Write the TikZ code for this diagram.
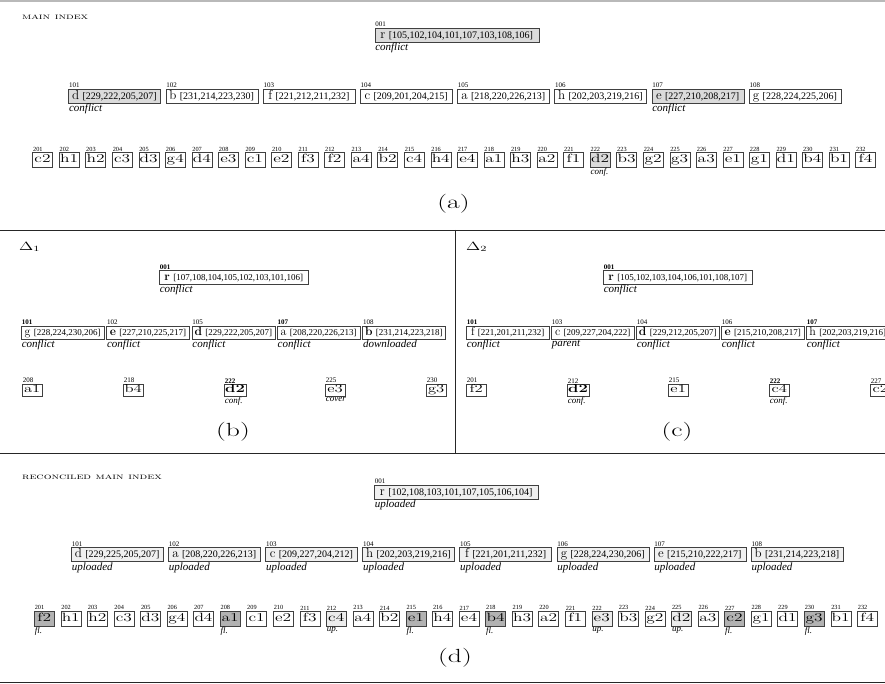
\documentclass[tikz,border=0pt]{standalone}
\usepackage{fontspec}
\usepackage{graphicx}
\usetikzlibrary{shadows}
\newfontfamily\tms{Liberation Serif}
\newcommand{\wide}[1]{\scalebox{1.45}[1]{#1}}
\newcommand{\cle}[2][13]{{\fontsize{#1}{#1}\selectfont #2}}
\newcommand{\fils}[2][10]{{\tms\fontsize{#1}{#1}\selectfont[#2]}}

\begin{document}
\begin{tikzpicture}[x=1pt, y=-1pt,
    boite/.style={draw=black!75, line width=0.4pt, fill=white, inner sep=1pt, anchor=west,
                  drop shadow={shadow xshift=0.8pt, shadow yshift=-0.8pt, fill=black!80, opacity=1}},
    racine/.style={boite, minimum width=164pt, minimum height=14pt, text height=9pt, text depth=2.5pt},
    noeud/.style={boite, minimum width=92pt, minimum height=14pt, text height=9pt, text depth=2.5pt},
    feuille/.style={boite, minimum width=20pt, minimum height=15pt, text height=8pt, text depth=2.4pt,
                    font=\fontsize{12}{12}\selectfont},
    petiteracine/.style={racine, minimum width=149pt, minimum height=13pt},
    petitnoeud/.style={noeud, minimum width=83pt, minimum height=13pt},
    petitefeuille/.style={feuille, minimum height=12pt, text height=7.5pt, text depth=2.2pt,
                          font=\fontsize{11.5}{11.5}\selectfont},
    indice/.style={anchor=south west, inner sep=0.6pt, font=\tms\fontsize{7}{7}\selectfont},
    petitindice/.style={indice, font=\tms\fontsize{6.3}{6.3}\selectfont},
    remarque/.style={anchor=north west, inner sep=0.6pt, font=\tms\itshape\fontsize{11}{11}\selectfont},
    petiteremarque/.style={remarque, font=\tms\itshape\fontsize{9}{9}\selectfont},
    titre/.style={anchor=west, inner sep=0pt, font=\fontsize{8.5}{8.5}\selectfont},
    legende/.style={inner sep=0pt, font=\fontsize{19}{19}\selectfont},
    trait/.style={line width=0.9pt, draw=black!85}]
    \useasboundingbox (0,0) rectangle (885,684);
    \clip (0,0) rectangle (885,684);
    % separateurs
    \draw[line width=1.6pt, draw=gray!55] (0,0.8) -- (885,0.8);
    \draw[trait] (0,230) -- (885,230);
    \draw[trait] (0,453.5) -- (885,453.5);
    \draw[trait] (0,682) -- (885,682);
    \draw[trait] (455,230) -- (455,453.5);

    % (a) index principal
    \node[titre] (titreA) at (22,17) {\wide{\textsc{main index}}};
    \node[racine, fill=gray!28] (ar) at (374.5,35) {\cle{r} \fils{105,102,104,101,107,103,108,106}};
    \node[indice] (iar) at (ar.north west) {001};
    \node[remarque] (nar) at (ar.south west) {conflict};
    \foreach \k/\v/\l/\f [count=\c from 0] in {101/d/{229,222,205,207}/gray!28, 102/b/{231,214,223,230}/white,
        103/f/{221,212,211,232}/white, 104/c/{209,201,204,215}/white, 105/a/{218,220,226,213}/white,
        106/h/{202,203,219,216}/white, 107/e/{227,210,208,217}/gray!28, 108/g/{228,224,225,206}/white}{
      \node[noeud, fill=\f] (a\k) at (68.3+97.2*\c, 96) {\cle{\v} \fils{\l}};
      \node[indice] (ia\k) at (a\k.north west) {\k};
    }
    \node[remarque] (na101) at (a101.south west) {conflict};
    \node[remarque] (na107) at (a107.south west) {conflict};
    \foreach \v/\f [count=\c from 0] in {c2/white, h1/white, h2/white, c3/white, d3/white, g4/white,
        d4/white, e3/white, c1/white, e2/white, f3/white, f2/white, a4/white, b2/white, c4/white,
        h4/white, e4/white, a1/white, h3/white, a2/white, f1/white, d2/gray!28, b3/white, g2/white,
        g3/white, a3/white, e1/white, g1/white, d1/white, b4/white, b1/white, f4/white}{
      \pgfmathtruncatemacro\k{201+\c}
      \node[feuille, fill=\f] (a\k) at (32.3+26.55*\c, 160) {\wide{\v}};
      \node[petitindice] (ia\k) at (a\k.north west) {\k};
    }
    \node[petiteremarque] (na222) at (a222.south west) {conf.};
    \node[legende] (legA) at (453.5,204) {\wide{(a)}};

    % (b) delta 1
    \node[titre, font=\fontsize{12}{12}\selectfont] (delta1) at (19,247) {\wide{$\Delta_1$}};
    \node[petiteracine] (br) at (159,277) {\cle[12]{\textbf{r}} \fils[9]{107,108,104,105,102,103,101,106}};
    \node[indice] (ibr) at (br.north west) {\textbf{001}};
    \node[remarque] (nbr) at (br.south west) {conflict};
    \foreach \k/\t/\v/\l [count=\c from 0] in {101/\textbf{101}/g/{228,224,230,206},
        102/102/\textbf{e}/{227,210,225,217}, 105/105/\textbf{d}/{229,222,205,207},
        107/\textbf{107}/a/{208,220,226,213}, 108/108/\textbf{b}/{231,214,223,218}}{
      \node[petitnoeud] (b\k) at (21+85.3*\c, 332.5) {\cle[12]{\v} \fils[9]{\l}};
      \node[indice] (ib\k) at (b\k.north west) {\t};
    }
    \node[remarque] (nb101) at (b101.south west) {conflict};
    \node[remarque] (nb102) at (b102.south west) {conflict};
    \node[remarque] (nb105) at (b105.south west) {conflict};
    \node[remarque] (nb107) at (b107.south west) {conflict};
    \node[remarque] (nb108) at (b108.south west) {downloaded};
    \foreach \k/\t/\v [count=\c from 0] in {208/208/a1, 218/218/b4, 222/\textbf{222}/\textbf{d2},
        225/225/e3, 230/230/g3}{
      \node[petitefeuille] (b\k) at (22+101*\c, 390) {\wide{\v}};
      \node[indice] (ib\k) at (b\k.north west) {\t};
    }
    \node[petiteremarque] (nb222) at (b222.south west) {conf.};
    \node[petiteremarque] (nb225) at (b225.south west) {cover};
    \node[legende] (legB) at (233,432) {\wide{(b)}};

    % (c) delta 2
    \node[titre, font=\fontsize{12}{12}\selectfont] (delta2) at (466,247) {\wide{$\Delta_2$}};
    \node[petiteracine] (cr) at (603,277) {\cle[12]{\textbf{r}} \fils[9]{105,102,103,104,106,101,108,107}};
    \node[indice] (icr) at (cr.north west) {\textbf{001}};
    \node[remarque] (ncr) at (cr.south west) {conflict};
    \foreach \k/\t/\v/\l [count=\c from 0] in {101/\textbf{101}/f/{221,201,211,232},
        103/103/c/{209,227,204,222}, 104/104/\textbf{d}/{229,212,205,207},
        106/106/\textbf{e}/{215,210,208,217}, 107/\textbf{107}/h/{202,203,219,216}}{
      \node[petitnoeud] (c\k) at (466+85*\c, 332.5) {\cle[12]{\v} \fils[9]{\l}};
      \node[indice] (ic\k) at (c\k.north west) {\t};
    }
    \node[remarque] (nc101) at (c101.south west) {conflict};
    \node[remarque] (nc103) at (c103.south west) {parent};
    \node[remarque] (nc104) at (c104.south west) {conflict};
    \node[remarque] (nc106) at (c106.south west) {conflict};
    \node[remarque] (nc107) at (c107.south west) {conflict};
    \foreach \k/\t/\v [count=\c from 0] in {201/201/f2, 212/212/\textbf{d2}, 215/215/e1,
        222/\textbf{222}/c4, 227/227/c2}{
      \node[petitefeuille] (c\k) at (466+101*\c, 390) {\wide{\v}};
      \node[indice] (ic\k) at (c\k.north west) {\t};
    }
    \node[petiteremarque] (nc212) at (c212.south west) {conf.};
    \node[petiteremarque] (nc222) at (c222.south west) {conf.};
    \node[legende] (legC) at (677,432) {\wide{(c)}};

    % (d) index reconcilie
    \node[titre] (titreD) at (22,477) {\wide{\textsc{reconciled main index}}};
    \node[racine, fill=gray!12] (dr) at (374,492) {\cle{r} \fils{102,108,103,101,107,105,106,104}};
    \node[indice] (idr) at (dr.north west) {001};
    \node[remarque] (ndr) at (dr.south west) {uploaded};
    \foreach \k/\v/\l [count=\c from 0] in {101/d/{229,225,205,207}, 102/a/{208,220,226,213},
        103/c/{209,227,204,212}, 104/h/{202,203,219,216}, 105/f/{221,201,211,232},
        106/g/{228,224,230,206}, 107/e/{215,210,222,217}, 108/b/{231,214,223,218}}{
      \node[noeud, fill=gray!12] (d\k) at (71+97.1*\c, 554.5) {\cle{\v} \fils{\l}};
      \node[indice] (id\k) at (d\k.north west) {\k};
      \node[remarque] (nd\k) at (d\k.south west) {uploaded};
    }
    \foreach \v/\f [count=\c from 0] in {f2/gray!60, h1/white, h2/white, c3/white, d3/white, g4/white,
        d4/white, a1/gray!60, c1/white, e2/white, f3/white, c4/gray!15, a4/white, b2/white, e1/gray!60,
        h4/white, e4/white, b4/gray!60, h3/white, a2/white, f1/white, e3/gray!15, b3/white, g2/white,
        d2/gray!15, a3/white, c2/gray!60, g1/white, d1/white, g3/gray!60, b1/white, f4/white}{
      \pgfmathtruncatemacro\k{201+\c}
      \node[feuille, fill=\f] (d\k) at (34+26.55*\c, 618.5) {\wide{\v}};
      \node[petitindice] (id\k) at (d\k.north west) {\k};
    }
    \node[petiteremarque] (nd201) at (d201.south west) {fl.};
    \node[petiteremarque] (nd208) at (d208.south west) {fl.};
    \node[petiteremarque] (nd212) at (d212.south west) {up.};
    \node[petiteremarque] (nd215) at (d215.south west) {fl.};
    \node[petiteremarque] (nd218) at (d218.south west) {fl.};
    \node[petiteremarque] (nd222) at (d222.south west) {up.};
    \node[petiteremarque] (nd225) at (d225.south west) {up.};
    \node[petiteremarque] (nd227) at (d227.south west) {fl.};
    \node[petiteremarque] (nd230) at (d230.south west) {fl.};
    \node[legende] (legD) at (455,658) {\wide{(d)}};
\end{tikzpicture}
\end{document}
